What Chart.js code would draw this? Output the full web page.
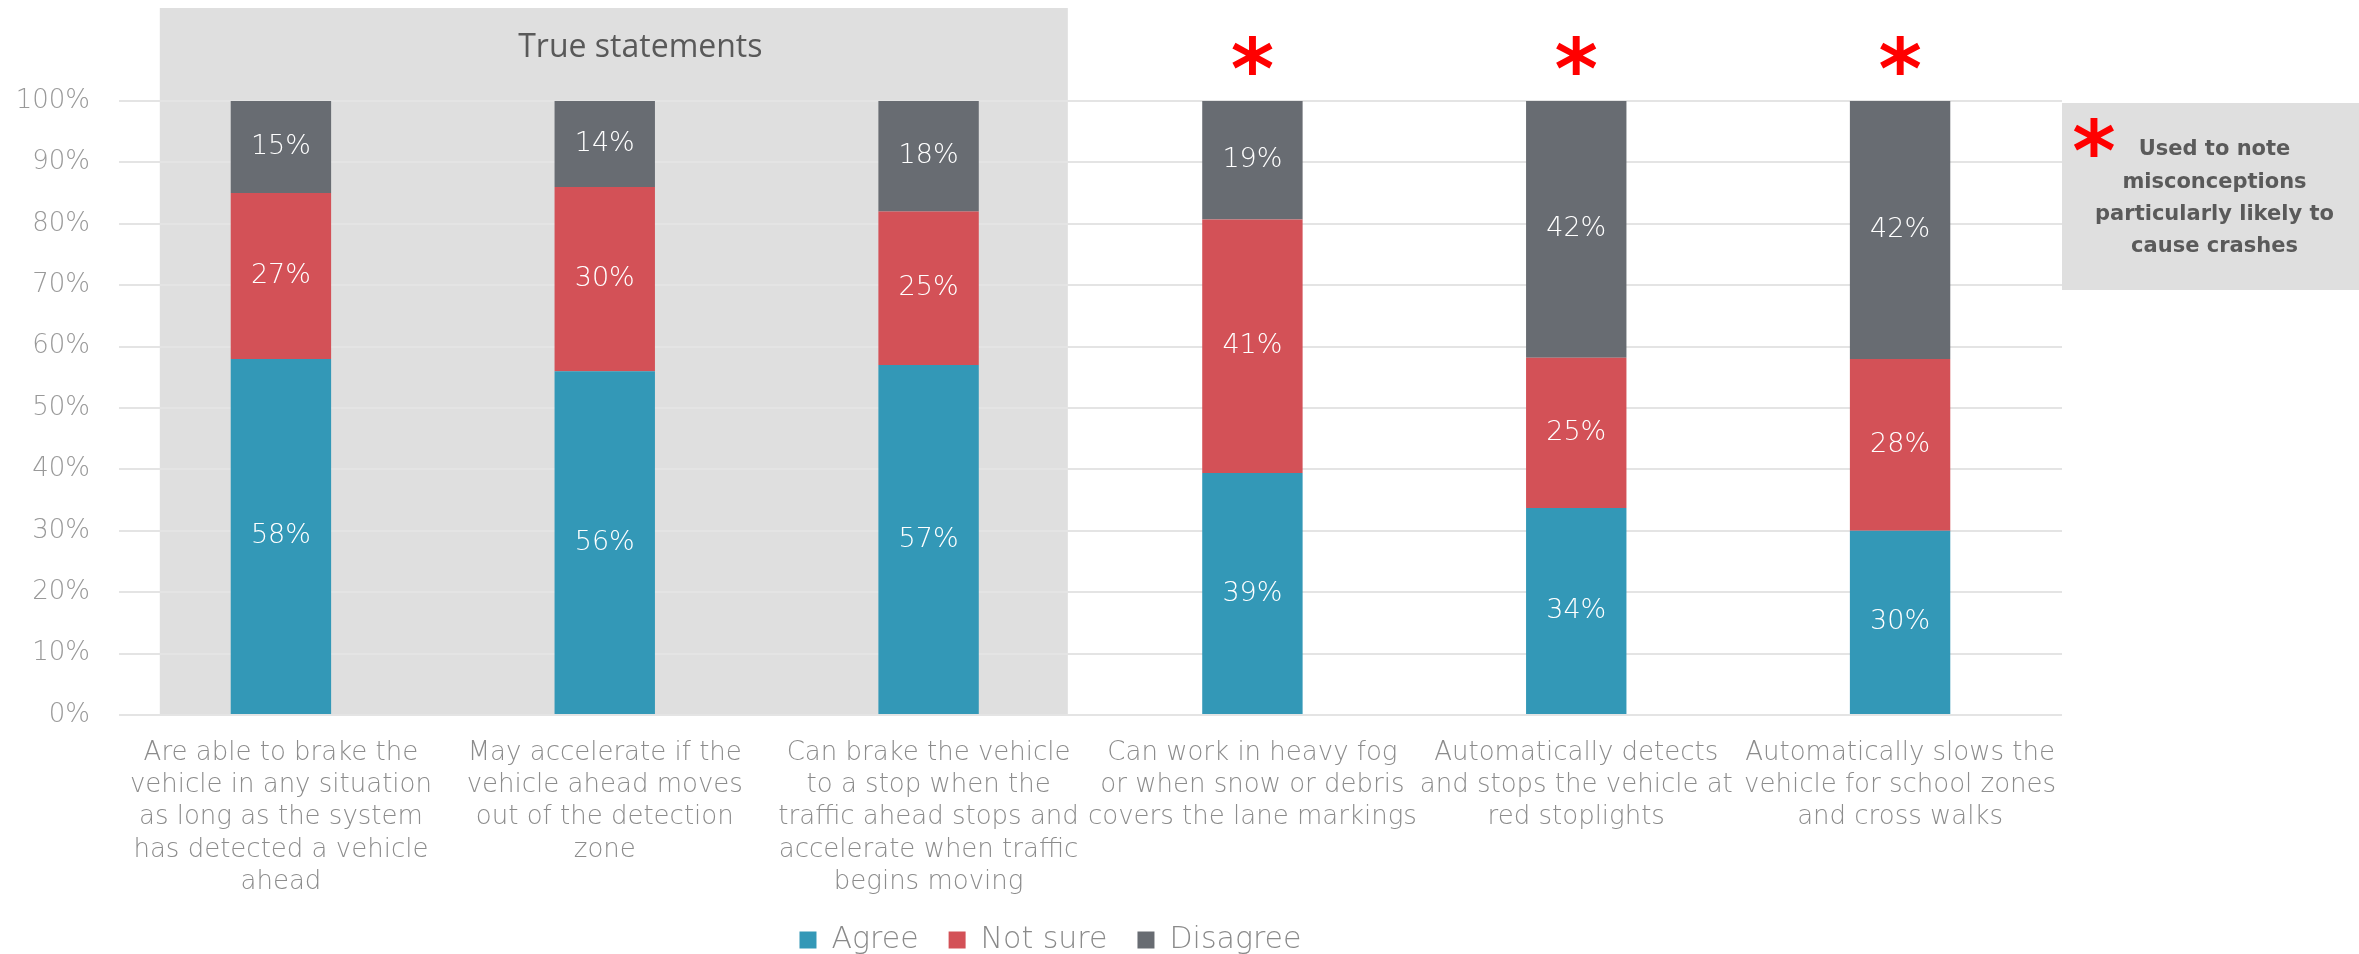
<!DOCTYPE html>
<html>
<head>
<meta charset="utf-8">
<title>ACC misconceptions</title>
<script src="https://cdn.jsdelivr.net/npm/chart.js@4.4.1/dist/chart.umd.min.js"></script>
<style>
    html, body { margin: 0; padding: 0; background: #fff; overflow: hidden; }
    #wrap { position: relative; width: 2359px; height: 965px; }
</style>
</head>
<body>
<div id="wrap"><canvas id="surveyChart"></canvas></div>
<script>
// statements (x axis), one line per array entry
const categories = [
    ['Are able to brake the', 'vehicle in any situation', 'as long as the system', 'has detected a vehicle', 'ahead'],
    ['May accelerate if the', 'vehicle ahead moves', 'out of the detection', 'zone'],
    ['Can brake the vehicle', 'to a stop when the', 'traffic ahead stops and', 'accelerate when traffic', 'begins moving'],
    ['Can work in heavy fog', 'or when snow or debris', 'covers the lane markings'],
    ['Automatically detects', 'and stops the vehicle at', 'red stoplights'],
    ['Automatically slows the', 'vehicle for school zones', 'and cross walks']
];

// shares in percent
const agree    = [58, 56, 57, 39.4, 33.7, 30];
const notSure  = [27, 30, 25, 41.3, 24.5, 28];
const disagree = [15, 14, 18, 19.3, 41.8, 42];

const seriesNames = ['Agree', 'Not sure', 'Disagree'];
const seriesColors = ['#3398b7', '#d35157', '#686c72'];

// statements flagged with a red star
const flagged = [false, false, false, true, true, true];
const trueGroupTitle = 'True statements';
const noteLines = ['Used to note', 'misconceptions', 'particularly likely to', 'cause crashes'];

const thinFont = '"DejaVu Sans", sans-serif';

function drawStar(ctx, cx, cy, h) {
    ctx.textAlign = 'center';
    ctx.textBaseline = 'alphabetic';
    ctx.font = 'bold 100px "DejaVu Sans"';
    const m = ctx.measureText('*');
    const size = 100 * h / (m.actualBoundingBoxAscent + m.actualBoundingBoxDescent);
    ctx.font = 'bold ' + size + 'px "DejaVu Sans"';
    const m2 = ctx.measureText('*');
    ctx.fillStyle = '#ff0000';
    ctx.fillText('*', cx, cy + (m2.actualBoundingBoxAscent - m2.actualBoundingBoxDescent) / 2);
}

// grey panel behind the true statements + note box on the right
const backdrop = {
    id: 'backdrop',
    afterLayout(chart) {
        // legend sits a little right of centre in the original
        chart.legend.left += 12;
        chart.legend.right += 12;
    },
    beforeDraw(chart) {
        const { ctx, chartArea, scales: { x, y } } = chart;
        ctx.save();
        ctx.fillStyle = '#dfdfdf';
        const left = x.getPixelForValue(-0.374);
        const right = x.getPixelForValue(2.43);
        const top = chartArea.top - 93;
        ctx.fillRect(left, top, right - left, y.getPixelForValue(0) + 1 - top);

        ctx.fillStyle = '#595959';
        ctx.font = '400 32px "Open Sans"';
        ctx.textAlign = 'center';
        ctx.textBaseline = 'middle';
        ctx.fillText(trueGroupTitle, x.getPixelForValue(1.11), chartArea.top - 53);

        // note box
        ctx.fillStyle = '#dfdfdf';
        ctx.fillRect(chartArea.right, chartArea.top + 2, chart.width - chartArea.right, 187);
        ctx.restore();
    },
    afterDraw(chart) {
        const { ctx, chartArea, scales: { x } } = chart;
        ctx.save();
        flagged.forEach((f, i) => {
            if (f) drawStar(ctx, x.getPixelForValue(i), chartArea.top - 46, 39);
        });
        const cx = (chartArea.right + chart.width) / 2 + 4;
        ctx.fillStyle = '#5a5a5a';
        ctx.font = 'bold 21px "DejaVu Sans"';
        ctx.textAlign = 'center';
        ctx.textBaseline = 'middle';
        noteLines.forEach((line, i) => {
            ctx.fillText(line, cx, chartArea.top + 49 + i * 32.3);
        });
        drawStar(ctx, chartArea.right + 32, chartArea.top + 36, 39);
        ctx.restore();
    }
};

// white percentage labels inside each segment
const segmentLabels = {
    id: 'segmentLabels',
    afterDatasetsDraw(chart) {
        const ctx = chart.ctx;
        ctx.save();
        ctx.font = '200 27px ' + thinFont;
        ctx.fillStyle = '#ffffff';
        ctx.textAlign = 'center';
        ctx.textBaseline = 'middle';
        chart.data.datasets.forEach((ds, i) => {
            chart.getDatasetMeta(i).data.forEach((bar, j) => {
                ctx.fillText(Math.round(ds.data[j]) + '%', bar.x, (bar.y + bar.base) / 2);
            });
        });
        ctx.restore();
    }
};

function initializeChart() {
    const canvas = document.getElementById('surveyChart');
    const ctx = canvas.getContext('2d');
    const values = [agree, notSure, disagree];

    new Chart(ctx, {
        type: 'bar',
        data: {
            labels: categories,
            datasets: values.map((v, i) => ({
                label: seriesNames[i],
                data: v,
                backgroundColor: seriesColors[i],
                borderWidth: 0,
                barPercentage: 0.31,
                categoryPercentage: 1
            }))
        },
        options: {
            responsive: true,
            maintainAspectRatio: false,
            animation: false,
            layout: { padding: { top: 101, left: 15, right: 297, bottom: 0 } },
            plugins: {
                tooltip: { enabled: false },
                legend: {
                    position: 'bottom',
                    labels: {
                        color: '#8a8a8a',
                        font: { family: thinFont, size: 30, weight: '200' },
                        boxWidth: 17,
                        boxHeight: 17,
                        padding: 30
                    }
                }
            },
            scales: {
                x: {
                    stacked: true,
                    grid: { display: false },
                    border: { display: false },
                    ticks: {
                        color: '#8c8c8c',
                        font: { family: thinFont, size: 26, weight: '200', lineHeight: 1.242 },
                        padding: 14,
                        maxRotation: 0,
                        minRotation: 0,
                        autoSkip: false
                    },
                    afterFit(scale) { scale.height = 180; }
                },
                y: {
                    stacked: true,
                    min: 0,
                    max: 100,
                    grid: { color: '#e4e4e4', lineWidth: 2, drawTicks: false },
                    border: { display: false },
                    ticks: {
                        stepSize: 10,
                        color: '#999999',
                        font: { family: thinFont, size: 26, weight: '200' },
                        padding: 29,
                        callback: (v) => v + '%'
                    },
                    afterFit(scale) { scale.width = 104; }
                }
            }
        },
        plugins: [backdrop, segmentLabels]
    });
}

document.addEventListener('DOMContentLoaded', initializeChart);
</script>
</body>
</html>
